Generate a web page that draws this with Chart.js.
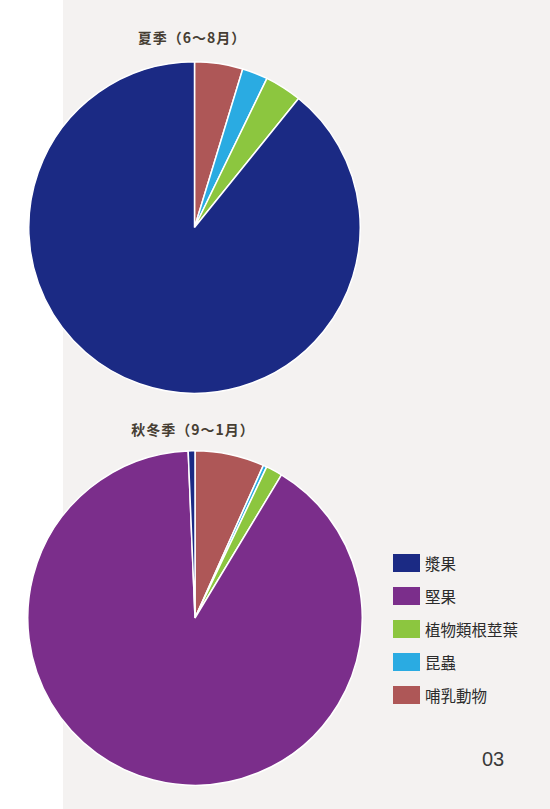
<!DOCTYPE html>
<html>
<head>
<meta charset="utf-8">
<script src="https://cdn.jsdelivr.net/npm/chart.js@4"></script>
<style>
html,body{margin:0;padding:0;}
body{width:550px;height:809px;position:relative;overflow:hidden;background:#ffffff;font-family:"Noto Sans CJK TC","Noto Sans",sans-serif;}
#bg{position:absolute;left:63px;top:0;width:487px;height:809px;background:#f4f2f1;}
canvas{position:absolute;}
.title{position:absolute;font-size:14px;font-weight:bold;color:#463e33;white-space:nowrap;transform:translateX(-50%);line-height:1;letter-spacing:1px;}
#legend{position:absolute;left:393px;top:554px;}
.item{position:relative;height:33px;}
.sw{position:absolute;left:0;top:0;width:27px;height:18px;}
.lb{position:absolute;left:32px;top:-1px;font-size:15.5px;color:#2b2b2b;white-space:nowrap;line-height:20px;}
#pg{position:absolute;left:482px;top:749px;font-family:"Liberation Sans",Arial,sans-serif;font-size:20px;color:#3a3a3a;line-height:1;}
</style>
</head>
<body>
<div id="bg"></div>
<div class="title" style="left:192px;top:30px;">夏季（6～8月）</div>
<div class="title" style="left:193px;top:422px;">秋冬季（9～1月）</div>
<canvas id="c1" width="333" height="333" style="left:28px;top:61px;width:333px;height:333px;"></canvas>
<canvas id="c2" width="336" height="336" style="left:27px;top:450px;width:336px;height:336px;"></canvas>
<div id="legend"></div>
<div id="pg">03</div>
<script>
// categories in legend order
const categories = ['漿果','堅果','植物類根莖葉','昆蟲','哺乳動物'];
const colors = ['#1b2a84','#7b2e8b','#8cc63f','#2aabe2','#ae5757'];
// percentages (legend order)
const summerValues = [89.2, 0, 3.6, 2.5, 4.7];
const autumnValues = [0.65, 90.7, 1.6, 0.35, 6.7];

// slices go clockwise from top in reverse legend order
function rev(a){ return a.slice().reverse(); }

function makePie(id, values){
  new Chart(document.getElementById(id), {
    type: 'pie',
    data: {
      labels: rev(categories),
      datasets: [{
        data: rev(values),
        backgroundColor: rev(colors),
        borderColor: '#ffffff',
        borderWidth: 1.5
      }]
    },
    options: {
      responsive: false,
      animation: false,
      layout: { padding: 0 },
      plugins: { legend: { display: false }, tooltip: { enabled: false } }
    }
  });
}
makePie('c1', summerValues);
makePie('c2', autumnValues);

const lg = document.getElementById('legend');
categories.forEach((c, i) => {
  const it = document.createElement('div');
  it.className = 'item';
  it.innerHTML = '<div class="sw" style="background:' + colors[i] + '"></div><div class="lb">' + c + '</div>';
  lg.appendChild(it);
});
</script>
</body>
</html>
